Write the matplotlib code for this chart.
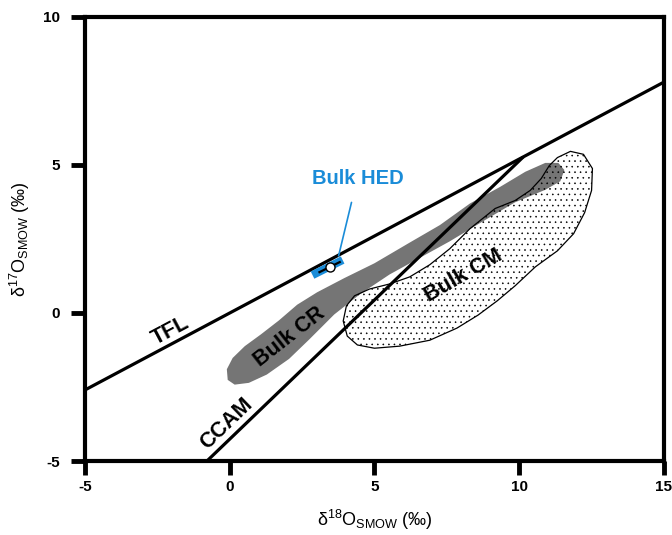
import numpy as np
import matplotlib
matplotlib.use("Agg")
import matplotlib.pyplot as plt
from matplotlib.patches import Polygon

plt.rcParams['font.family'] = ['Liberation Sans', 'DejaVu Sans']
plt.rcParams['mathtext.fontset'] = 'custom'
plt.rcParams['mathtext.rm'] = 'Liberation Sans'
plt.rcParams['mathtext.it'] = 'Liberation Sans:italic'
plt.rcParams['mathtext.bf'] = 'Liberation Sans:bold'
plt.rcParams['axes.unicode_minus'] = False
plt.rcParams['hatch.linewidth'] = 0.4

# reference lines
tfl_slope = 0.52
tfl_x = [-5, 15]
ccam_slope = 0.94
ccam_intercept = -4.26
ccam_x = [-0.79, 10.14]

# Bulk CR field outline (d18O, d17O)
cr_x = [-0.10, 0.10, 0.52, 1.08, 1.70, 2.33, 3.02, 3.96, 5.00, 6.22, 7.26, 8.30,
        9.34, 10.21, 10.90, 11.35, 11.56, 11.42, 10.90, 9.86, 8.65, 7.60, 6.56,
        5.52, 4.48, 3.61, 2.74, 2.05, 1.28, 0.66, 0.17, -0.07]
cr_y = [-1.90, -1.52, -1.12, -0.72, -0.25, 0.28, 0.70, 1.18, 1.68, 2.38, 2.97, 3.70,
        4.26, 4.77, 5.07, 5.07, 4.83, 4.45, 4.16, 3.74, 3.04, 2.42, 1.86,
        1.30, 0.62, -0.05, -0.90, -1.55, -2.08, -2.36, -2.42, -2.26]

# Bulk CM field outline
cm_x = [11.32, 11.77, 12.22, 12.53, 12.50, 12.26, 11.88, 11.32, 10.56, 9.86, 9.24,
        8.58, 7.85, 6.91, 5.87, 5.00, 4.41, 4.06, 3.92, 4.03, 4.31, 4.83, 5.52,
        6.22, 6.91, 7.60, 8.30, 9.17, 9.86, 10.38, 10.76, 11.04]
cm_y = [5.25, 5.46, 5.36, 4.88, 4.14, 3.39, 2.68, 2.10, 1.56, 0.92, 0.41,
        -0.07, -0.51, -0.92, -1.12, -1.19, -1.08, -0.78, -0.27, 0.24, 0.58, 0.81, 0.98,
        1.22, 1.63, 2.17, 2.85, 3.53, 3.80, 4.14, 4.54, 4.98]

# Bulk HED range and mean
hed_x = [2.86, 3.90]
hed_y = [1.28, 1.79]
hed_err_x = [3.10, 3.80]
hed_err_y = [1.38, 1.72]
hed_mean = (3.45, 1.55)

xticks = [-5, 0, 5, 10, 15]
yticks = [-5, 0, 5, 10]

blue = '#1a8cd8'

fig = plt.figure(figsize=(6.72, 5.35), dpi=100)
ax = fig.add_axes([0.1265, 0.1383, 0.8615, 0.83])

ax.add_patch(Polygon(np.column_stack([cr_x, cr_y]), closed=True,
                     facecolor='#757575', edgecolor='none', zorder=1))
ax.add_patch(Polygon(np.column_stack([cm_x, cm_y]), closed=True,
                     facecolor='none', edgecolor='black', linewidth=0.9,
                     hatch='...', joinstyle='round', zorder=2))

tfl_x = np.array(tfl_x, dtype=float)
ax.plot(tfl_x, tfl_slope * tfl_x, color='black', lw=2.3, zorder=3)
ccam_x = np.array(ccam_x)
ax.plot(ccam_x, ccam_slope * ccam_x + ccam_intercept, color='black', lw=2.3,
        solid_capstyle='butt', zorder=3)

# HED
ax.plot(hed_x, hed_y, color=blue, lw=5.8, solid_capstyle='butt', zorder=4)
ax.plot(hed_err_x, hed_err_y, color='black', lw=1.6, zorder=5)
ax.plot(*hed_mean, marker='o', ms=6.5, mfc='white', mec='black', mew=1.0, zorder=6)
ax.annotate('Bulk HED', xy=(3.76, 1.93), xytext=(4.41, 4.56), color=blue,
            fontsize=14.5, fontweight='bold', ha='center', va='center',
            arrowprops=dict(arrowstyle='-', color=blue, lw=1.2, shrinkA=9, shrinkB=0),
            zorder=7)

label_kw = dict(fontsize=15.5, fontweight='bold', ha='center', va='center',
                rotation_mode='anchor', zorder=8)
ax.text(-2.05, -0.61, 'TFL', rotation=28, **label_kw)
ax.text(-0.10, -3.73, 'CCAM', rotation=44, **label_kw)
ax.text(2.08, -0.80, 'Bulk CR', rotation=38, **label_kw)
ax.text(8.06, 1.25, 'Bulk CM', rotation=30, **label_kw)

ax.set_xlim(-5, 15)
ax.set_ylim(-5, 10)
ax.set_xticks(xticks)
ax.set_yticks(yticks)
ax.tick_params(direction='out', length=10, width=3.5, labelsize=11)
ax.tick_params(axis='x', pad=4)
ax.tick_params(axis='y', pad=8)
for lab in ax.get_xticklabels() + ax.get_yticklabels():
    lab.set_fontweight('bold')
for sp in ax.spines.values():
    sp.set_linewidth(3)

ax.set_xlabel('δ$^{18}$O$_{\\mathrm{SMOW}}$ (‰)', fontsize=13, labelpad=10)
ax.set_ylabel('δ$^{17}$O$_{\\mathrm{SMOW}}$ (‰)', fontsize=13, labelpad=8)

fig.savefig('out.png', dpi=100)
